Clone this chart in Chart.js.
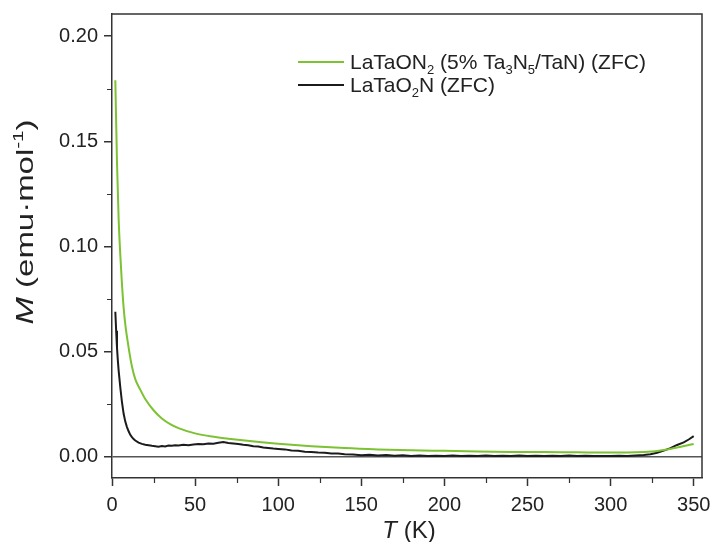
<!DOCTYPE html>
<html>
<head>
<meta charset="utf-8">
<script src="https://cdn.jsdelivr.net/npm/chart.js@4.4.1/dist/chart.umd.min.js"></script>
<style>
  html, body { margin: 0; padding: 0; background: #fff; }
  #wrap { width: 712px; height: 542px; }
</style>
</head>
<body>
<div id="wrap"><canvas id="chart" width="712" height="542"></canvas></div>
<script>
// temperature (K) and magnetisation (emu/mol)
const greenT = [2, 3, 4, 5, 6, 7, 8, 10, 12, 14, 17, 20, 25, 30, 35, 40, 50, 60, 70, 80, 90, 100,
  120, 140, 160, 180, 200, 220, 240, 260, 280, 300, 310, 320, 325, 330, 335, 340, 345, 350];
const greenM = [0.179, 0.140, 0.113, 0.096, 0.082, 0.071, 0.063, 0.052, 0.043, 0.037, 0.032, 0.0275,
  0.0222, 0.0183, 0.0156, 0.0137, 0.0112, 0.0097, 0.0087, 0.0078, 0.0070, 0.0063,
  0.0051, 0.0042, 0.0036, 0.0032, 0.0029, 0.0026, 0.0024, 0.0023, 0.0022, 0.0021, 0.0021,
  0.0023, 0.0026, 0.0031, 0.0037, 0.0045, 0.0053, 0.0062];

const blackT = [2, 2.5, 3, 3.5, 4, 5, 6, 7, 8, 9, 10, 11, 12, 13, 14, 16, 18, 20, 22, 24, 26, 28,
  30, 32, 34, 36, 38, 40, 43, 46, 49, 52, 55, 58, 61, 64, 67, 70, 73, 76, 79, 82, 85, 88, 91, 94,
  97, 100, 104, 108, 112, 116, 120, 124, 128, 132, 136, 140, 145, 150, 155, 160, 165, 170, 175,
  180, 185, 190, 195, 200, 205, 210, 215, 220, 225, 230, 235, 240, 245, 250, 255, 260, 265, 270,
  275, 280, 285, 290, 295, 300, 305, 310, 315, 320, 324, 328, 332, 336, 340, 344, 347, 350];
const blackM = [0.069, 0.060, 0.052, 0.046, 0.041, 0.033, 0.026, 0.0205, 0.0168, 0.0142, 0.0122,
  0.0105, 0.0094, 0.0085, 0.0078, 0.0068, 0.0062, 0.0058, 0.0056, 0.0053, 0.0051, 0.0049,
  0.0052, 0.0050, 0.0054, 0.0053, 0.0056, 0.0055, 0.0058, 0.0056, 0.0059, 0.0061, 0.0060,
  0.0064, 0.0063, 0.0067, 0.0071, 0.0066, 0.0064, 0.0062, 0.0058, 0.0056, 0.0051, 0.0050,
  0.0045, 0.0043, 0.0040, 0.0038, 0.0036, 0.0031, 0.0029, 0.0025, 0.0024, 0.0021, 0.0020,
  0.0017, 0.0016, 0.0013, 0.0012, 0.0008, 0.0010, 0.0007, 0.0009, 0.0006, 0.0008, 0.0005,
  0.0007, 0.0004, 0.0006, 0.0005, 0.0007, 0.0004, 0.0006, 0.0004, 0.0007, 0.0005, 0.0006,
  0.0004, 0.0007, 0.0005, 0.0006, 0.0004, 0.0006, 0.0005, 0.0007, 0.0004, 0.0006, 0.0004,
  0.0005, 0.0004, 0.0006, 0.0005, 0.0007, 0.0009, 0.0013, 0.0020, 0.0030, 0.0042, 0.0057,
  0.0069, 0.0083, 0.0099];

// legend labels: _x = subscript, ^{..} = superscript
const seriesLabels = ["LaTaON_2 (5% Ta_3N_5/TaN) (ZFC)", "LaTaO_2N (ZFC)"];
const seriesColors = ["#7cc232", "#1b1b1b"];
const xTitle = "T (K)";
const yTitle = "M (emu\u00b7mol^{-1})";
const minorX = [25, 75, 125, 175, 225, 275, 325];
const minorY = [0.025, 0.075, 0.125, 0.175];

const FONT = "'Liberation Sans', Arial, sans-serif";
const AXIS_COLOR = "#333";

// split a label into normal / sub / sup pieces
function parseRich(str) {
  const parts = [];
  const re = /_\{([^}]*)\}|\^\{([^}]*)\}|_(.)|\^(.)/g;
  let last = 0, m;
  while ((m = re.exec(str)) !== null) {
    if (m.index > last) parts.push({ t: str.slice(last, m.index), k: 0 });
    if (m[1] !== undefined) parts.push({ t: m[1], k: -1 });
    else if (m[2] !== undefined) parts.push({ t: m[2], k: 1 });
    else if (m[3] !== undefined) parts.push({ t: m[3], k: -1 });
    else parts.push({ t: m[4], k: 1 });
    last = re.lastIndex;
  }
  if (last < str.length) parts.push({ t: str.slice(last), k: 0 });
  return parts;
}

function richWidth(ctx, parts, size, italicFirst) {
  let w = 0;
  parts.forEach((p, i) => {
    const s = p.k === 0 ? size : Math.round(size * 0.62);
    ctx.font = (italicFirst && i === 0 ? "italic " : "") + s + "px " + FONT;
    w += ctx.measureText(p.t).width;
  });
  return w;
}

function drawRich(ctx, parts, x, y, size, italicFirst) {
  ctx.textBaseline = "alphabetic";
  ctx.textAlign = "left";
  parts.forEach((p, i) => {
    const s = p.k === 0 ? size : Math.round(size * 0.62);
    const dy = p.k === -1 ? size * 0.25 : p.k === 1 ? -size * 0.42 : 0;
    if (italicFirst && i === 0 && p.k === 0) {
      // first character italic (the symbol), rest upright
      const sym = p.t.charAt(0);
      ctx.font = "italic " + s + "px " + FONT;
      ctx.fillText(sym, x, y + dy);
      x += ctx.measureText(sym).width;
      ctx.font = s + "px " + FONT;
      ctx.fillText(p.t.slice(1), x, y + dy);
      x += ctx.measureText(p.t.slice(1)).width;
    } else {
      ctx.font = s + "px " + FONT;
      ctx.fillText(p.t, x, y + dy);
      x += ctx.measureText(p.t).width;
    }
  });
}

const decorPlugin = {
  id: "decor",
  afterDraw(chart) {
    const { ctx, chartArea: a, scales } = chart;
    ctx.save();
    // top + right frame
    ctx.strokeStyle = AXIS_COLOR;
    ctx.lineWidth = 1.5;
    ctx.beginPath();
    ctx.moveTo(a.left, a.top);
    ctx.lineTo(a.right, a.top);
    ctx.lineTo(a.right, a.bottom);
    ctx.stroke();

    // minor ticks
    ctx.lineWidth = 1.2;
    ctx.beginPath();
    minorX.forEach((v) => {
      const px = Math.round(scales.x.getPixelForValue(v)) + 0.5;
      ctx.moveTo(px, a.bottom);
      ctx.lineTo(px, a.bottom + 5);
    });
    minorY.forEach((v) => {
      const py = Math.round(scales.y.getPixelForValue(v)) + 0.5;
      ctx.moveTo(a.left, py);
      ctx.lineTo(a.left - 5, py);
    });
    ctx.stroke();

    // legend
    ctx.fillStyle = "#222";
    seriesLabels.forEach((lab, i) => {
      const y = 62 + i * 23;
      ctx.strokeStyle = seriesColors[i];
      ctx.lineWidth = 2;
      ctx.beginPath();
      ctx.moveTo(298, y);
      ctx.lineTo(344, y);
      ctx.stroke();
      drawRich(ctx, parseRich(lab), 350, y + 7, 21, false);
    });

    // x title
    const xp = parseRich(xTitle);
    const xw = richWidth(ctx, xp, 24, true);
    drawRich(ctx, xp, 409 - xw / 2, 538, 24, true);

    // y title, rotated
    const yp = parseRich(yTitle);
    const yw = richWidth(ctx, yp, 24, true);
    const stretch = 205 / yw;
    ctx.translate(33, 222);
    ctx.rotate(-Math.PI / 2);
    ctx.scale(stretch, 1);
    drawRich(ctx, yp, -yw / 2, 0, 24, true);
    ctx.restore();
  }
};

new Chart(document.getElementById("chart"), {
  type: "line",
  data: {
    datasets: [
      {
        label: seriesLabels[0],
        data: greenT.map((t, i) => ({ x: t, y: greenM[i] })),
        borderColor: seriesColors[0],
        borderWidth: 2,
        pointRadius: 0,
        cubicInterpolationMode: "monotone",
        fill: false,
      },
      {
        label: seriesLabels[1],
        data: blackT.map((t, i) => ({ x: t, y: blackM[i] })),
        borderColor: seriesColors[1],
        borderWidth: 2,
        pointRadius: 0,
        tension: 0,
        fill: false,
      },
    ],
  },
  options: {
    responsive: false,
    animation: false,
    layout: { padding: { top: 14, right: 10, left: 0, bottom: 0 } },
    plugins: {
      legend: { display: false },
      tooltip: { enabled: false },
    },
    scales: {
      x: {
        type: "linear",
        min: 0,
        max: 355,
        afterFit: (scale) => {
          scale.height = 64;
          scale.paddingLeft = 0;
          scale.paddingRight = 0;
        },
        ticks: {
          stepSize: 50,
          includeBounds: false,
          maxRotation: 0,
          padding: 7,
          color: "#222",
          font: { family: FONT, size: 20 },
        },
        grid: {
          drawOnChartArea: false,
          tickLength: 8,
          tickColor: AXIS_COLOR,
          tickWidth: 1.5,
        },
        border: { display: true, color: AXIS_COLOR, width: 1.5 },
      },
      y: {
        type: "linear",
        min: -0.01,
        max: 0.2105,
        afterFit: (scale) => {
          scale.width = 112;
          scale.paddingTop = 0;
          scale.paddingBottom = 0;
        },
        ticks: {
          stepSize: 0.05,
          includeBounds: false,
          padding: 6,
          color: "#222",
          font: { family: FONT, size: 20 },
          callback: (v) => v.toFixed(2),
        },
        grid: {
          drawOnChartArea: true,
          tickLength: 8,
          tickColor: AXIS_COLOR,
          tickWidth: 1.5,
          lineWidth: 1.5,
          color: (ctx) => (ctx.tick && Math.abs(ctx.tick.value) < 1e-9 ? "#555" : "rgba(0,0,0,0)"),
        },
        border: { display: true, color: AXIS_COLOR, width: 1.5 },
      },
    },
  },
  plugins: [decorPlugin],
});
</script>
</body>
</html>
